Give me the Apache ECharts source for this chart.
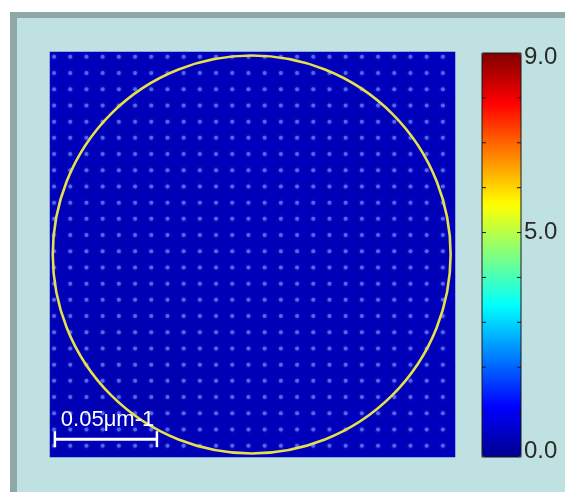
<!DOCTYPE html>
<html><head><meta charset="utf-8">
<script src="https://cdn.jsdelivr.net/npm/echarts@6/dist/echarts.min.js"></script>
<style>html,body{margin:0;padding:0;background:#fff}#c{width:565px;height:492px}</style>
</head><body><div id="c"></div>
<script>
// coarse background intensity map (rows top -> bottom)
const heatCols = ['c0','c1','c2','c3','c4','c5','c6','c7','c8'];
const heatRows = ['r0','r1','r2','r3','r4','r5','r6','r7','r8'];
const heatValues = [
  [0.45,0.42,0.43,0.44,0.43,0.42,0.43,0.44,0.45],
  [0.43,0.40,0.41,0.43,0.44,0.42,0.41,0.43,0.44],
  [0.42,0.40,0.40,0.42,0.45,0.43,0.40,0.41,0.43],
  [0.41,0.39,0.40,0.41,0.44,0.43,0.40,0.40,0.42],
  [0.40,0.38,0.39,0.41,0.43,0.42,0.40,0.40,0.42],
  [0.39,0.36,0.37,0.40,0.42,0.41,0.40,0.41,0.43],
  [0.37,0.34,0.35,0.38,0.41,0.41,0.40,0.41,0.43],
  [0.37,0.34,0.34,0.37,0.40,0.41,0.41,0.42,0.44],
  [0.40,0.38,0.38,0.40,0.42,0.43,0.43,0.44,0.45]
];
// lattice of bright spots (data units, 0..25 frame)
const dotCols = [0.25,1.25,2.25,3.25,4.25,5.25,6.25,7.25,8.25,9.25,10.25,11.25,12.25,13.25,14.25,15.25,16.25,17.25,18.25,19.25,20.25,21.25,22.25,23.25,24.25];
const dotRows = [0.7,1.7,2.7,3.7,4.7,5.7,6.7,7.7,8.7,9.7,10.7,11.7,12.7,13.7,14.7,15.7,16.7,17.7,18.7,19.7,20.7,21.7,22.7,23.7,24.7];
// aperture circle
const circleCenter = [12.45, 12.5];
const circleRadius = 12.28;
// scale bar
const scaleBar = {x0: 0.3, x1: 6.6, y: 1.1, label: '0.05μm-1'};
// colour scale
const cMin = 0, cMax = 9;
const cbLabels = [['9.0', 9], ['5.0', 5], ['0.0', 0]];
const cbTicks = [1,2,3,4,5,6,7,8];

const heatData = [];
heatValues.forEach((row, r) => row.forEach((v, c) => heatData.push([c, heatRows.length - 1 - r, v])));
const dotData = [];
dotRows.forEach(y => dotCols.forEach(x => dotData.push([x, y])));

const jet = ['#00008f','#0000ff','#0080ff','#00ffff','#80ff80','#ffff00','#ff8000','#ff0000','#800000'];
const G = {left: 50, top: 52, width: 405, height: 405};
const CB = {left: 482, top: 53, width: 39, height: 404};

const chart = echarts.init(document.getElementById('c'));
chart.setOption({
  backgroundColor: '#bfe1e1',
  animation: false,
  grid: [Object.assign({}, G), Object.assign({}, G)],
  xAxis: [
    {type: 'category', data: heatCols, gridIndex: 0, show: false},
    {type: 'value', min: 0, max: 25, gridIndex: 1, show: false}
  ],
  yAxis: [
    {type: 'category', data: heatRows.slice().reverse(), gridIndex: 0, show: false},
    {type: 'value', min: 0, max: 25, gridIndex: 1, show: false}
  ],
  visualMap: {
    type: 'continuous', min: cMin, max: cMax, seriesIndex: 0,
    left: CB.left, top: CB.top, itemWidth: CB.width, itemHeight: CB.height,
    padding: 0, calculable: false, text: null, showLabel: false,
    inRange: {color: jet}, hoverLink: false
  },
  series: [
    {type: 'heatmap', xAxisIndex: 0, yAxisIndex: 0, data: heatData, itemStyle: {borderWidth: 0}},
    {type: 'scatter', xAxisIndex: 1, yAxisIndex: 1, data: dotData, symbolSize: 4,
     itemStyle: {color: '#6478f4', opacity: 0.8, shadowBlur: 3, shadowColor: '#4050e0'}, silent: true}
  ]
});

function build() {
  const c = chart.convertToPixel({gridIndex: 1}, circleCenter);
  const e = chart.convertToPixel({gridIndex: 1}, [circleCenter[0] + circleRadius, circleCenter[1]]);
  const r = e[0] - c[0];
  const b0 = chart.convertToPixel({gridIndex: 1}, [scaleBar.x0, scaleBar.y]);
  const b1 = chart.convertToPixel({gridIndex: 1}, [scaleBar.x1, scaleBar.y]);
  const vy = v => CB.top + (cMax - v) / (cMax - cMin) * CB.height;
  const els = [
    {type: 'rect', shape: {x: 0, y: 0, width: 565, height: 12}, style: {fill: '#ffffff'}, z: -10},
    {type: 'rect', shape: {x: 0, y: 0, width: 10, height: 492}, style: {fill: '#ffffff'}, z: -10},
    {type: 'rect', shape: {x: 10, y: 12, width: 555, height: 6}, style: {fill: '#8fa7a7'}, z: -9},
    {type: 'rect', shape: {x: 10, y: 12, width: 7, height: 480}, style: {fill: '#8fa7a7'}, z: -9},
    {type: 'circle', shape: {cx: c[0], cy: c[1], r: r}, style: {fill: null, stroke: '#e6e04a', lineWidth: 2.6}, z: 10},
    {type: 'line', shape: {x1: b0[0], y1: b0[1], x2: b1[0], y2: b1[1]}, style: {stroke: '#ffffff', lineWidth: 3}, z: 11},
    {type: 'line', shape: {x1: b0[0], y1: b0[1] - 8, x2: b0[0], y2: b0[1] + 8}, style: {stroke: '#ffffff', lineWidth: 2.5}, z: 11},
    {type: 'line', shape: {x1: b1[0], y1: b1[1] - 8, x2: b1[0], y2: b1[1] + 8}, style: {stroke: '#ffffff', lineWidth: 2.5}, z: 11},
    {type: 'text', x: b0[0] + 6, y: b0[1] - 8, style: {text: scaleBar.label, fill: '#ffffff', font: '22px "Liberation Sans"', textVerticalAlign: 'bottom'}, z: 11},
    {type: 'rect', shape: {x: CB.left, y: CB.top, width: CB.width, height: CB.height}, style: {fill: null, stroke: '#1a1a1a', lineWidth: 1}, z: 12}
  ];
  cbTicks.forEach(v => {
    const y = vy(v);
    els.push({type: 'line', shape: {x1: CB.left, y1: y, x2: CB.left + 4, y2: y}, style: {stroke: '#1a1a1a', lineWidth: 1}, z: 12});
    els.push({type: 'line', shape: {x1: CB.left + CB.width - 4, y1: y, x2: CB.left + CB.width, y2: y}, style: {stroke: '#1a1a1a', lineWidth: 1}, z: 12});
  });
  cbLabels.forEach(([t, v]) => {
    let y = vy(v);
    if (v === cMax) y += 4;
    if (v === cMin) y -= 6;
    els.push({type: 'text', x: CB.left + CB.width + 3, y: y, style: {text: t, fill: '#2a2a2a', font: '24px "Liberation Sans"', textVerticalAlign: 'middle'}, z: 12});
  });
  chart.setOption({graphic: els});
}
build();
</script></body></html>
